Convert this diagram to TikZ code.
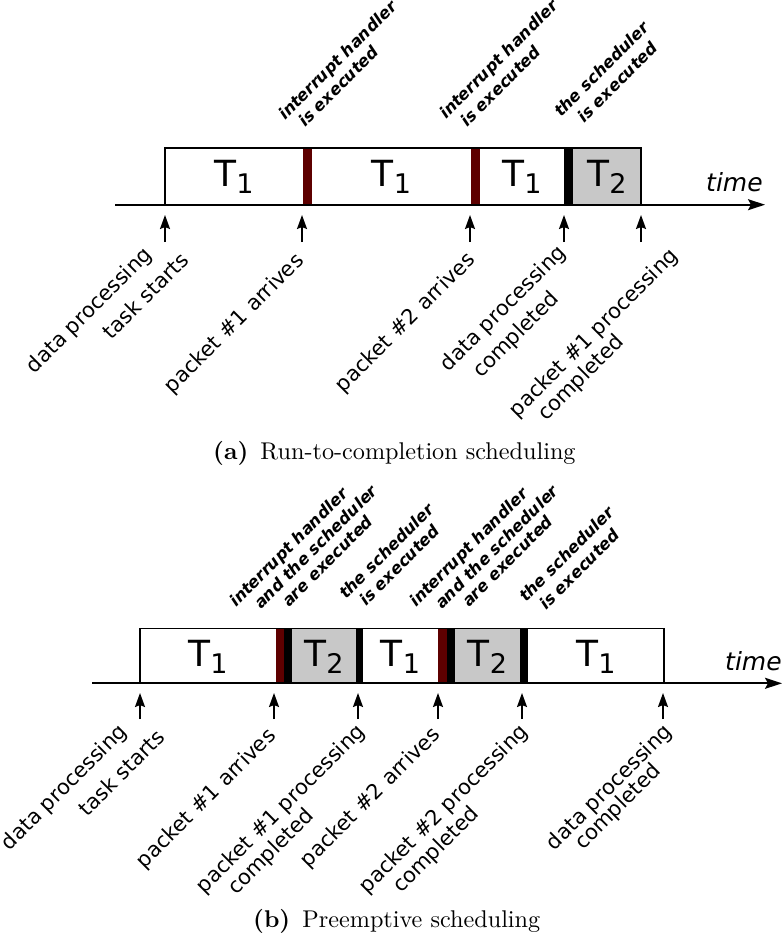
\documentclass[tikz,border=0pt]{standalone}
\usepackage{fontspec}
\usetikzlibrary{arrows.meta}
\newfontfamily\labelfont{DejaVu Sans}[
  ItalicFont={DejaVu Sans Oblique},
  BoldFont={DejaVu Sans Bold},
  BoldItalicFont={DejaVu Sans Bold Oblique}]
\definecolor{irq}{RGB}{94,0,0}
\definecolor{taskgray}{RGB}{200,200,200}
% task name with lowered index, e.g. T_1
\newcommand\tasklbl[2]{{\fontsize{36}{36}\selectfont #1}{\fontsize{27}{27}\selectfont\raisebox{-6.5pt}{#2}}}
% sub-figure caption, set at 10pt and enlarged
\newcommand\subcaptext[2]{\scalebox{2.42}{\textbf{(#1)}\hspace{0.5em}#2}}

\tikzset{
  outline/.style={draw=black, line width=1.5pt},
  irqbar/.style={fill=irq},
  schedbar/.style={fill=black},
  busy/.style={fill=taskgray},
  timeaxis/.style={line width=1.8pt, -{Stealth[length=17pt,width=11pt,inset=3pt]}},
  event/.style={line width=1.8pt, -{Stealth[length=14pt,width=10pt,inset=2pt]}},
  evtlabel/.style={rotate=45, anchor=base east, inner sep=0pt,
    font={\labelfont\fontsize{21}{25}\selectfont}},
  execlabel/.style={rotate=45, anchor=base west, inner sep=0pt,
    font={\labelfont\bfseries\itshape\fontsize{16.3}{19}\selectfont}},
  tasklabel/.style={anchor=base, inner sep=0pt, font=\labelfont},
  timelabel/.style={anchor=base west, inner sep=0pt,
    font={\labelfont\itshape\fontsize{25}{30}\selectfont}},
  subcap/.style={anchor=base west, inner sep=0pt}
}

\begin{document}
\begin{tikzpicture}[x=1pt,y=-1pt]
\path[use as bounding box] (0,0) rectangle (783,935);

% ---------------- (a) run-to-completion ----------------
\fill[busy]     (572.7,148) rectangle (641,204.7);
\fill[irqbar]   (303,148)   rectangle (312,204.7);
\fill[irqbar]   (471,148)   rectangle (480,204.7);
\fill[schedbar] (564,148)   rectangle (572.7,204.7);
\draw[outline]  (165,204.7) rectangle (641,148);

\coordinate (axa0) at (115,204.7);
\coordinate (axa1) at (765,204.7);
\draw[timeaxis] (axa0) -- (axa1);
\node[timelabel] (timea) at (706,191) {time};

\node[tasklabel] (ta1) at (234,186.7) {\tasklbl{T}{1}};
\node[tasklabel] (ta2) at (391.5,186.7) {\tasklbl{T}{1}};
\node[tasklabel] (ta3) at (522,186.7) {\tasklbl{T}{1}};
\node[tasklabel] (ta4) at (607,186.7) {\tasklbl{T}{2}};

\node[execlabel] (xa1l1) at (285,121) {interrupt handler};
\node[execlabel] (xa1l2) at (305,128) {is executed};
\node[execlabel] (xa2l1) at (446,120) {interrupt handler};
\node[execlabel] (xa2l2) at (467,128) {is executed};
\node[execlabel] (xa3l1) at (561,118) {the scheduler};
\node[execlabel] (xa3l2) at (584,124) {is executed};

\foreach \n/\x in {1/165,2/302,3/470,4/564,5/641}{
  \coordinate (ea\n s) at (\x,242);
  \coordinate (ea\n t) at (\x,215);
  \draw[event] (ea\n s) -- (ea\n t);
}

\node[evtlabel] (la1l1) at (153,256) {data processing};
\node[evtlabel] (la1l2) at (190,262) {task starts};
\node[evtlabel] (la2)   at (305,262) {packet \#1 arrives};
\node[evtlabel] (la3)   at (476,261) {packet \#2 arrives};
\node[evtlabel] (la4l1) at (567,254) {data processing};
\node[evtlabel] (la4l2) at (560,300) {completed};
\node[evtlabel] (la5l1) at (679,257) {packet \#1 processing};
\node[evtlabel] (la5l2) at (625,343) {completed};

\node[subcap] (capa) at (213,459) {\subcaptext{a}{Run-to-completion scheduling}};

% ---------------- (b) preemptive ----------------
\fill[busy]     (292.3,628.3) rectangle (355.7,683.3);
\fill[busy]     (455,628.3)   rectangle (520,683.3);
\fill[irqbar]   (275.7,628.3) rectangle (284,683.3);
\fill[schedbar] (284,628.3)   rectangle (292.3,683.3);
\fill[schedbar] (355.7,628.3) rectangle (362.7,683.3);
\fill[irqbar]   (438.3,628.3) rectangle (446.7,683.3);
\fill[schedbar] (446.7,628.3) rectangle (455,683.3);
\fill[schedbar] (520,628.3)   rectangle (528.3,683.3);
\draw[outline]  (140,683.3) rectangle (664,628.3);

\coordinate (axb0) at (92,683.3);
\coordinate (axb1) at (782,683.3);
\draw[timeaxis] (axb0) -- (axb1);
\node[timelabel] (timeb) at (725,670) {time};

\node[tasklabel] (tb1) at (208,666.7) {\tasklbl{T}{1}};
\node[tasklabel] (tb2) at (324,666.7) {\tasklbl{T}{2}};
\node[tasklabel] (tb3) at (400.5,666.7) {\tasklbl{T}{1}};
\node[tasklabel] (tb4) at (487.5,666.7) {\tasklbl{T}{2}};
\node[tasklabel] (tb5) at (596,666.7) {\tasklbl{T}{1}};

\node[execlabel] (xb1l1) at (236,608) {interrupt handler};
\node[execlabel] (xb1l2) at (261,610) {and the scheduler};
\node[execlabel] (xb1l3) at (289,608) {are executed};
\node[execlabel] (xb2l1) at (346,600) {the scheduler};
\node[execlabel] (xb2l2) at (366,607) {is executed};
\node[execlabel] (xb3l1) at (416,608) {interrupt handler};
\node[execlabel] (xb3l2) at (442,610) {and the scheduler};
\node[execlabel] (xb3l3) at (469,608) {are executed};
\node[execlabel] (xb4l1) at (526,603) {the scheduler};
\node[execlabel] (xb4l2) at (546,611) {is executed};

\foreach \n/\x in {1/140,2/274,3/358,4/438,5/522,6/663}{
  \coordinate (eb\n s) at (\x,719);
  \coordinate (eb\n t) at (\x,693);
  \draw[event] (eb\n s) -- (eb\n t);
}

\node[evtlabel] (lb1l1) at (128,733) {data processing};
\node[evtlabel] (lb1l2) at (166,739) {task starts};
\node[evtlabel] (lb2)   at (277,737) {packet \#1 arrives};
\node[evtlabel] (lb3l1) at (366,733) {packet \#1 processing};
\node[evtlabel] (lb3l2) at (315,817) {completed};
\node[evtlabel] (lb4)   at (441,736) {packet \#2 arrives};
\node[evtlabel] (lb5l1) at (529,733) {packet \#2 processing};
\node[evtlabel] (lb5l2) at (480,815) {completed};
\node[evtlabel] (lb6l1) at (673,733) {data processing};
\node[evtlabel] (lb6l2) at (662,772) {completed};

\node[subcap] (capb) at (253,927) {\subcaptext{b}{Preemptive scheduling}};
\end{tikzpicture}
\end{document}
